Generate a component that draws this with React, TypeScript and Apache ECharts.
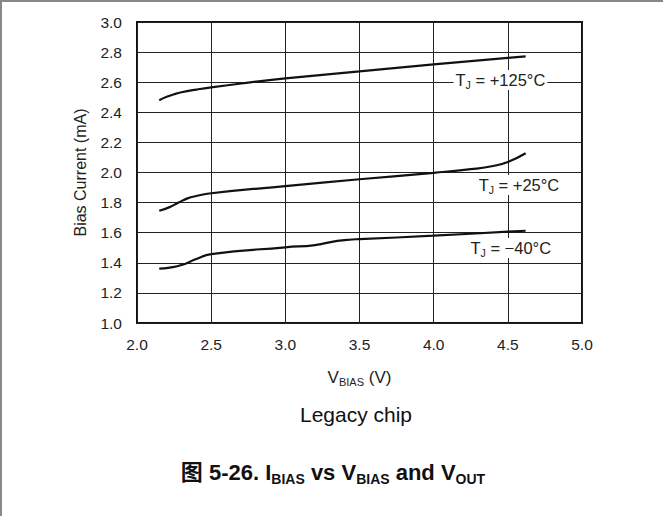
import React, { useEffect, useRef } from "react";
import * as echarts from "echarts";

// V_BIAS (V) and Bias Current (mA) for each junction temperature
const v125 = [2.15, 2.2, 2.25, 2.3, 2.4, 2.5, 2.75, 3.0, 3.5, 4.0, 4.5, 4.62];
const i125 = [2.48, 2.503, 2.52, 2.533, 2.551, 2.566, 2.597, 2.625, 2.672, 2.718, 2.762, 2.772];

const v25 = [2.15, 2.22, 2.28, 2.34, 2.4, 2.5, 3.0, 3.5, 4.0, 4.25, 4.4, 4.5, 4.62];
const i25 = [1.746, 1.77, 1.8, 1.828, 1.844, 1.862, 1.91, 1.955, 1.998, 2.022, 2.043, 2.07, 2.128];

const vm40 = [2.15, 2.22, 2.3, 2.4, 2.5, 3.0, 3.2, 3.35, 3.45, 3.5, 4.0, 4.5, 4.62];
const im40 = [1.361, 1.368, 1.385, 1.425, 1.458, 1.503, 1.518, 1.546, 1.555, 1.557, 1.58, 1.607, 1.613];

const labelTexts = ["T{sub|J} = +125°C", "T{sub|J} = +25°C", "T{sub|J} = \u221240°C"];
const labelCoords: [number, number][] = [
  [4.45, 2.615],
  [4.575, 1.917],
  [4.52, 1.498],
];

const xTicks = { min: 2.0, max: 5.0, interval: 0.5 };
const yTicks = { min: 1.0, max: 3.0, interval: 0.2 };

const FONT = "'Liberation Sans', Arial, 'Noto Sans CJK SC', sans-serif";

function pairs(xs: number[], ys: number[]) {
  return xs.map((x, i) => [x, ys[i]]);
}

export default function App() {
  const ref = useRef<HTMLDivElement>(null);
  useEffect(() => {
    document.body.style.margin = "0";
    if (!ref.current) return;
    const chart = echarts.init(ref.current, null, { renderer: "svg" });
    const subRich = {
      sub: { fontSize: 10.5, verticalAlign: "bottom", lineHeight: 9, fontFamily: FONT, color: "#222" },
    };
    const makeSeries = (name: string, data: number[][], idx: number) => ({
      name,
      type: "line",
      data,
      smooth: 0.5,
      showSymbol: false,
      symbol: "none",
      lineStyle: { color: "#111", width: 2.2 },
      z: 3,
      markPoint: {
        symbol: "rect",
        symbolSize: 1,
        itemStyle: { color: "rgba(0,0,0,0)" },
        data: [
          {
            coord: labelCoords[idx],
            label: {
              show: true,
              position: "inside",
              formatter: labelTexts[idx],
              fontSize: 16.5,
              lineHeight: 20,
              fontFamily: FONT,
              color: "#222",
              backgroundColor: "#fff",
              padding: [0, 2, 0, 2],
              rich: subRich,
            },
          },
        ],
      },
    });
    chart.setOption({
      animation: false,
      grid: {
        left: 137,
        top: 22,
        right: 81,
        bottom: 193,
        show: true,
        borderColor: "#111",
        borderWidth: 2,
        backgroundColor: "transparent",
      },
      xAxis: {
        type: "value",
        min: xTicks.min,
        max: xTicks.max,
        interval: xTicks.interval,
        axisLine: { show: false },
        axisTick: { show: false },
        splitLine: { show: true, lineStyle: { color: "#222", width: 1 } },
        axisLabel: {
          fontSize: 15.5,
          fontFamily: FONT,
          color: "#222",
          margin: 14,
          formatter: (v: number) => v.toFixed(1),
        },
        name: "V{sub|BIAS} (V)",
        nameLocation: "middle",
        nameGap: 44,
        nameTextStyle: {
          fontSize: 17,
          lineHeight: 20,
          fontFamily: FONT,
          color: "#222",
          rich: { sub: { fontSize: 11, verticalAlign: "bottom", lineHeight: 11, fontFamily: FONT, color: "#222" } },
        },
      },
      yAxis: {
        type: "value",
        min: yTicks.min,
        max: yTicks.max,
        interval: yTicks.interval,
        axisLine: { show: false },
        axisTick: { show: false },
        splitLine: { show: true, lineStyle: { color: "#222", width: 1 } },
        axisLabel: {
          fontSize: 15.5,
          fontFamily: FONT,
          color: "#222",
          margin: 15,
          formatter: (v: number) => v.toFixed(1),
        },
        name: "Bias Current (mA)",
        nameLocation: "middle",
        nameGap: 49,
        nameTextStyle: { fontSize: 16, fontFamily: FONT, color: "#222" },
      },
      series: [
        makeSeries("TJ = +125°C", pairs(v125, i125), 0),
        makeSeries("TJ = +25°C", pairs(v25, i25), 1),
        makeSeries("TJ = -40°C", pairs(vm40, im40), 2),
      ],
      graphic: [
        { type: "rect", shape: { x: 0, y: 0, width: 663, height: 2 }, style: { fill: "#888" }, silent: true },
        { type: "rect", shape: { x: 0, y: 0, width: 2, height: 516 }, style: { fill: "#888" }, silent: true },
        {
          type: "text",
          style: {
            text: "Legacy chip",
            x: 356,
            y: 414,
            align: "center",
            verticalAlign: "middle",
            fontSize: 21,
            fontFamily: FONT,
            fill: "#111",
          },
        },
        {
          type: "text",
          style: {
            text: "图 5-26. I{sub|BIAS} vs V{sub|BIAS} and V{sub|OUT}",
            x: 333,
            y: 472,
            align: "center",
            verticalAlign: "middle",
            fontSize: 22,
            lineHeight: 28,
            fontWeight: "bold",
            fontFamily: FONT,
            fill: "#111",
            rich: {
              sub: { fontSize: 14, fontWeight: "bold", verticalAlign: "bottom", lineHeight: 14, fontFamily: FONT, fill: "#111" },
            },
          },
        },
      ],
    });
    return () => chart.dispose();
  }, []);
  return <div ref={ref} style={{ width: 663, height: 516 }} />;
}
